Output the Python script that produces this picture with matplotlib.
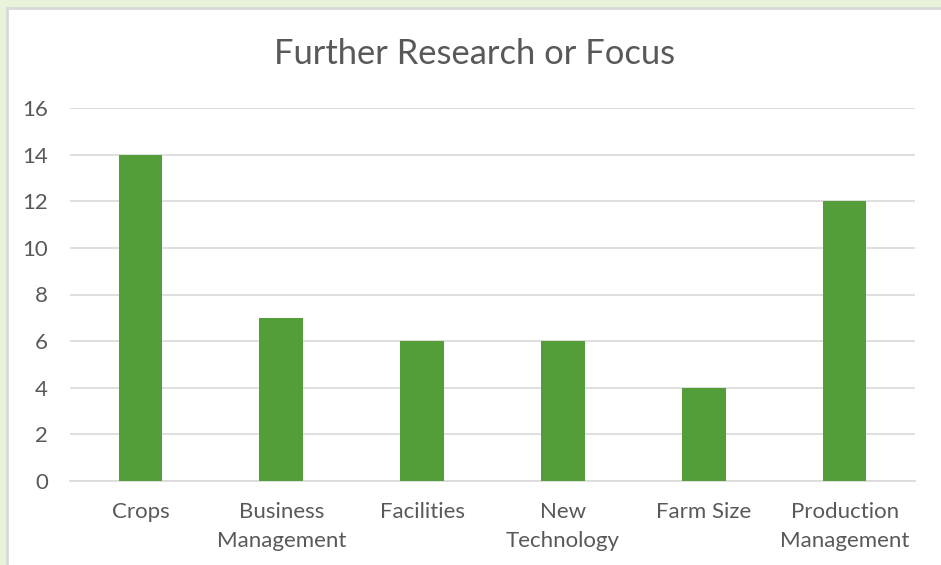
import matplotlib.pyplot as plt
from matplotlib.patches import Rectangle

categories = ['Crops', 'Business\nManagement', 'Facilities', 'New\nTechnology', 'Farm Size', 'Production\nManagement']
values = [14, 7, 6, 6, 4, 12]

plt.rcParams['font.family'] = ['Lato', 'DejaVu Sans']

fig = plt.figure(figsize=(9.41, 5.65), dpi=100, facecolor='#E9F3D9')
# white chart area with light border
fig.patches.append(Rectangle((7 / 941, -0.05), 1.0, 1 - 8 / 565 + 0.05, transform=fig.transFigure,
                             facecolor='white', edgecolor='#D9D9D9', linewidth=2, zorder=-1))

ax = fig.add_axes([70 / 941, 1 - 481 / 565, 845 / 941, 373 / 565])
ax.set_facecolor('none')
x = range(len(categories))
ax.bar(x, values, width=0.31, color='#549E39', zorder=3)
ax.set_xlim(-0.5, len(categories) - 0.5)
ax.set_ylim(0, 16)
ax.set_yticks(range(0, 17, 2))
ax.set_xticks(list(x))
ax.set_xticklabels(categories, linespacing=1.55)
ax.grid(axis='y', color='#D9D9D9', linewidth=1.2, zorder=0)
for s in ['top', 'right', 'left']:
    ax.spines[s].set_visible(False)
ax.spines['bottom'].set_color('#D9D9D9')
ax.spines['bottom'].set_linewidth(1.2)
ax.tick_params(axis='both', length=0, labelsize=16, colors='#595959')
ax.tick_params(axis='y', pad=16)
ax.tick_params(axis='x', pad=15)
fig.text(475 / 941, 1 - 54 / 565, 'Further Research or Focus', ha='center', va='center',
         fontsize=24.8, color='#595959')

fig.savefig('out.png', dpi=100, facecolor=fig.get_facecolor())
